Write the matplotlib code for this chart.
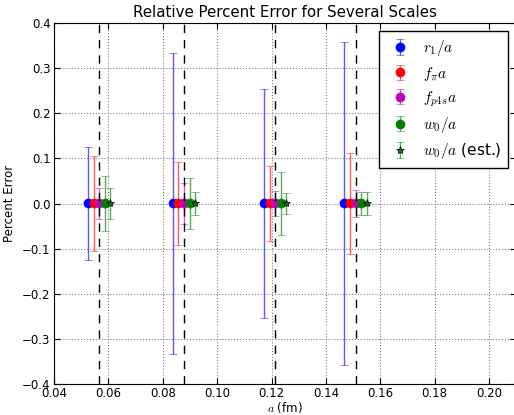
import matplotlib
matplotlib.use("Agg")
import matplotlib.pyplot as plt
import numpy as np

# lattice spacings (fm)
a_vals = [0.0566, 0.0878, 0.1213, 0.1509]
offset = 0.00205

labels = [r"$r_1/a$", r"$f_\pi a$", r"$f_{p4s}a$", r"$w_0/a$", r"$w_0/a$ (est.)"]
colors = [(0, 0, 1), (1, 0, 0), (0.75, 0, 0.75), (0, 0.5, 0), (0, 0.5, 0)]
markers = ["o", "o", "o", "o", "*"]

# relative errors per scale, one value per lattice spacing
err_r1 = [0.125, 0.333, 0.253, 0.358]
err_fpi = [0.106, 0.091, 0.083, 0.111]
err_fp4s = [0.035, 0.045, 0.028, 0.030]
err_w0 = [0.060, 0.056, 0.069, 0.025]
err_w0_est = [0.034, 0.025, 0.023, 0.025]
errors = [err_r1, err_fpi, err_fp4s, err_w0, err_w0_est]

plt.rcParams["font.family"] = "DejaVu Sans"
plt.rcParams["mathtext.fontset"] = "cm"

fig = plt.figure(figsize=(5.14, 4.15), dpi=100)
ax = fig.add_axes([54 / 514, 1 - 384 / 415, (516.3 - 54) / 514, (384 - 23) / 415])

x = np.array(a_vals)
for i, (lab, col, mk, err) in enumerate(zip(labels, colors, markers, errors)):
    xs = x + (i - 2) * offset
    ax.errorbar(xs, np.zeros(len(xs)), yerr=err, fmt=mk, color=col,
                ecolor=col + (0.65,), elinewidth=1.0, capsize=3,
                markersize=6.5 if mk == "o" else 6,
                markeredgecolor=col if mk == "o" else "black",
                markeredgewidth=0.5, label=lab, zorder=3)

for a in a_vals:
    ax.axvline(a, color="black", linestyle="--", linewidth=1.0, dashes=(6, 5), zorder=4)

ax.set_xlim(0.04, 0.21)
ax.set_ylim(-0.4, 0.4)
ax.set_xticks(np.arange(0.04, 0.201, 0.02))
ax.set_yticks(np.arange(-0.4, 0.401, 0.1))
ax.tick_params(direction="in", top=True, right=True, labelsize=8.5, length=4, pad=2.5)
ax.grid(True, linestyle=":", color="gray", linewidth=0.8)
ax.set_axisbelow(True)

ax.set_title("Relative Percent Error for Several Scales", fontsize=10.8, pad=4)
ax.set_xlabel(r"$a$ (fm)", fontsize=8.5, labelpad=-0.5)
ax.set_ylabel("Percent Error", fontsize=8.5)

leg = ax.legend(loc="upper right", numpoints=1, fontsize=11, fancybox=False,
                labelspacing=0.42, borderpad=0.45, handlelength=1.8,
                handletextpad=0.6, framealpha=1.0, edgecolor="black",
                borderaxespad=0.55)
leg.get_frame().set_linewidth(1.0)

fig.savefig("out.png", dpi=100)
